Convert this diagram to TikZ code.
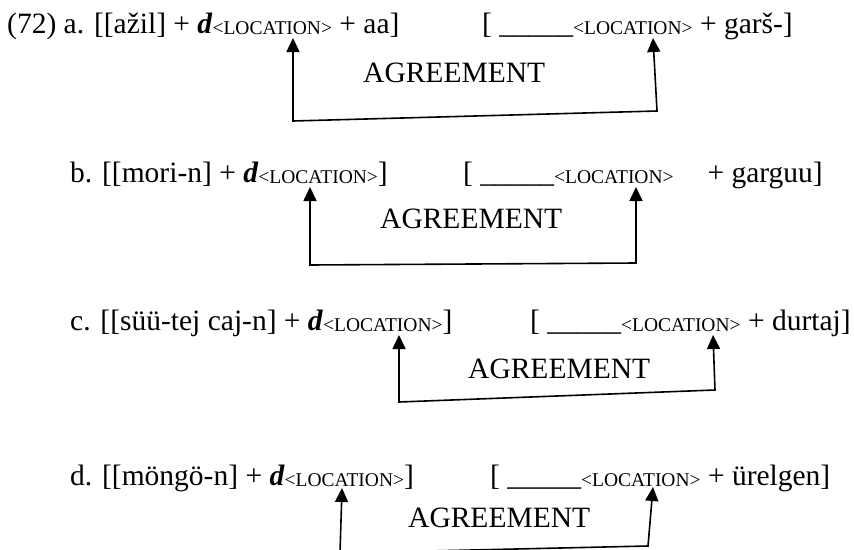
\documentclass[tikz,border=0pt]{standalone}
\usepackage{fontspec}
\setmainfont{Liberation Serif}
\usetikzlibrary{arrows.meta}
\newcommand{\LocSub}{\raisebox{-1.5pt}{\fontsize{19.5}{20}\selectfont <LOCATION>}}
\newcommand{\BlankLine}{\_\_\_\_\_}
\tikzset{
  txt/.style={anchor=base west, inner sep=0pt, font=\fontsize{29.5}{34}\selectfont},
  link/.style={line width=1.6pt, {Triangle[width=13pt,length=14pt]}-{Triangle[width=13pt,length=14pt]}, line join=miter}
}
\begin{document}
\begin{tikzpicture}[x=1pt,y=-1pt]
\useasboundingbox (0,0) rectangle (854,549);
\clip (0,0) rectangle (854,549);
% line a
\node[txt] (la) at (7,33) {(72) a. [[ažil] + \textbf{\textit{d}}\LocSub{} + aa]};
\node[txt] (ra) at (482,33) {[ \BlankLine\LocSub{} + garš-]};
\node[txt] (ga) at (363,82) {AGREEMENT};
\coordinate (aLT) at (293,38);
\coordinate (aLB) at (293,121);
\coordinate (aRB) at (657,111);
\coordinate (aRT) at (653,38);
\draw[link] (aLT) -- (aLB) -- (aRB) -- (aRT);
% line b
\node[txt] (lb) at (70,182) {b. [[mori-n] + \textbf{\textit{d}}\LocSub{}]};
\node[txt] (rb) at (463,182) {[ \BlankLine\LocSub{}\hspace{0.9em} + garguu]};
\node[txt] (gb) at (380,228) {AGREEMENT};
\coordinate (bLT) at (310,187);
\coordinate (bLB) at (310,265);
\coordinate (bRB) at (636,263);
\coordinate (bRT) at (636,187);
\draw[link] (bLT) -- (bLB) -- (bRB) -- (bRT);
% line c
\node[txt] (lc) at (70,330) {c. [[süü-tej caj-n] + \textbf{\textit{d}}\LocSub{}]};
\node[txt] (rc) at (530,330) {[ \BlankLine\LocSub{} + durtaj]};
\node[txt] (gc) at (468,378) {AGREEMENT};
\coordinate (cLT) at (399,335);
\coordinate (cLB) at (399,402);
\coordinate (cRB) at (715,390);
\coordinate (cRT) at (713,335);
\draw[link] (cLT) -- (cLB) -- (cRB) -- (cRT);
% line d
\node[txt] (ld) at (70,485) {d. [[möngö-n] + \textbf{\textit{d}}\LocSub{}]};
\node[txt] (rd) at (490,485) {[ \BlankLine\LocSub{} + ürelgen]};
\node[txt] (gd) at (408,527) {AGREEMENT};
\coordinate (dLT) at (342,488);
\coordinate (dLB) at (340,553);
\coordinate (dRB) at (648,546);
\coordinate (dRT) at (653,487);
\draw[link] (dLT) -- (dLB) -- (dRB) -- (dRT);
\end{tikzpicture}
\end{document}
